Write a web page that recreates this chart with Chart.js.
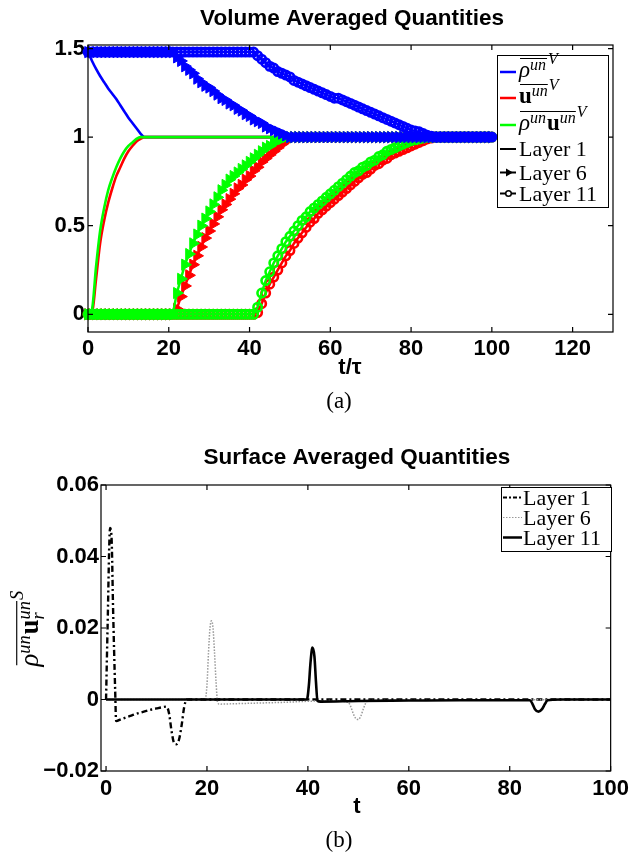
<!DOCTYPE html>
<html lang="en">
<head>
<meta charset="utf-8">
<title>Volume and surface averaged quantities</title>
<style>
  body { margin: 0; background: #fff; }
  .box { position: absolute; left: 0; }
</style>
</head>
<body>
<div class="box" style="top:0"><canvas id="volChart" width="634" height="420"></canvas></div>
<div class="box" style="top:420px"><canvas id="surfChart" width="634" height="434"></canvas></div>
<script src="https://cdn.jsdelivr.net/npm/chart.js@4/dist/chart.umd.min.js"></script>
<script>
var SANS = '"Liberation Sans", Arial, sans-serif';
var SERIF = '"Liberation Serif", "Times New Roman", serif';
var BLUE = '#0000ff', RED = '#ff0000', GREEN = '#00ff00';

// (a) volume averaged quantities, layers 6 and 11 sampled at t/tau = 0..100
var tGrid = [
  0,1,2,3,4,5,6,7,8,9,10,11,12,13,14,15,16,17,18,19,
  20,21,22,23,24,25,26,27,28,29,30,31,32,33,34,35,36,37,38,39,
  40,41,42,43,44,45,46,47,48,49,50,51,52,53,54,55,56,57,58,59,
  60,61,62,63,64,65,66,67,68,69,70,71,72,73,74,75,76,77,78,79,
  80,81,82,83,84,85,86,87,88,89,90,91,92,93,94,95,96,97,98,99,100];

var rhoL6 = [
  1.48,1.48,1.48,1.48,1.48,1.48,1.48,1.48,1.48,1.48,
  1.48,1.48,1.48,1.48,1.48,1.48,1.48,1.48,1.48,1.48,
  1.48,1.48,1.45,1.43,1.40,1.38,1.36,1.33,1.31,1.29,
  1.28,1.26,1.24,1.22,1.21,1.19,1.18,1.16,1.15,1.13,
  1.12,1.10,1.09,1.08,1.06,1.05,1.04,1.03,1.02,1.01,
  1,1,1,1,1,1,1,1,1,1, 1,1,1,1,1,1,1,1,1,1,
  1,1,1,1,1,1,1,1,1,1, 1,1,1,1,1,1,1,1,1,1,
  1,1,1,1,1,1,1,1,1,1, 1];
var uL6 = [
  0,0,0,0,0,0,0,0,0,0, 0,0,0,0,0,0,0,0,0,0,
  0,0,0.03,0.10,0.16,0.22,0.28,0.33,0.38,0.43,
  0.47,0.51,0.55,0.59,0.62,0.65,0.68,0.71,0.73,0.76,
  0.78,0.81,0.83,0.86,0.88,0.90,0.92,0.94,0.96,0.98,
  0.99,1,1,1,1,1,1,1,1,1, 1,1,1,1,1,1,1,1,1,1,
  1,1,1,1,1,1,1,1,1,1, 1,1,1,1,1,1,1,1,1,1,
  1,1,1,1,1,1,1,1,1,1, 1];
var rhouL6 = [
  0,0,0,0,0,0,0,0,0,0, 0,0,0,0,0,0,0,0,0,0,
  0,0,0.12,0.20,0.28,0.34,0.40,0.45,0.50,0.54,
  0.58,0.62,0.66,0.70,0.73,0.76,0.78,0.80,0.82,0.84,
  0.86,0.88,0.90,0.92,0.94,0.95,0.97,0.98,0.99,1,
  1,1,1,1,1,1,1,1,1,1, 1,1,1,1,1,1,1,1,1,1,
  1,1,1,1,1,1,1,1,1,1, 1,1,1,1,1,1,1,1,1,1,
  1,1,1,1,1,1,1,1,1,1, 1];

var rhoL11 = [
  1.48,1.48,1.48,1.48,1.48,1.48,1.48,1.48,1.48,1.48,
  1.48,1.48,1.48,1.48,1.48,1.48,1.48,1.48,1.48,1.48,
  1.48,1.48,1.48,1.48,1.48,1.48,1.48,1.48,1.48,1.48,
  1.48,1.48,1.48,1.48,1.48,1.48,1.48,1.48,1.48,1.48,
  1.48,1.48,1.46,1.44,1.42,1.40,1.39,1.37,1.36,1.35,
  1.34,1.32,1.31,1.30,1.29,1.28,1.27,1.26,1.25,1.24,
  1.23,1.22,1.22,1.21,1.20,1.19,1.18,1.17,1.16,1.15,
  1.14,1.13,1.12,1.11,1.10,1.09,1.08,1.07,1.06,1.05,
  1.04,1.035,1.03,1.02,1.01,1.005,1,1,1,1,
  1,1,1,1,1,1,1,1,1,1, 1];
var uL11 = [
  0,0,0,0,0,0,0,0,0,0, 0,0,0,0,0,0,0,0,0,0,
  0,0,0,0,0,0,0,0,0,0, 0,0,0,0,0,0,0,0,0,0,
  0,0,0.01,0.06,0.12,0.17,0.21,0.25,0.29,0.33,
  0.36,0.40,0.43,0.46,0.49,0.52,0.54,0.57,0.59,0.61,
  0.63,0.65,0.67,0.69,0.71,0.73,0.75,0.77,0.79,0.80,
  0.82,0.84,0.85,0.87,0.88,0.90,0.91,0.92,0.93,0.94,
  0.95,0.96,0.97,0.98,0.99,0.995,1,1,1,1,
  1,1,1,1,1,1,1,1,1,1, 1];
var rhouL11 = [
  0,0,0,0,0,0,0,0,0,0, 0,0,0,0,0,0,0,0,0,0,
  0,0,0,0,0,0,0,0,0,0, 0,0,0,0,0,0,0,0,0,0,
  0,0,0.04,0.12,0.19,0.24,0.29,0.33,0.37,0.41,
  0.44,0.47,0.50,0.53,0.55,0.58,0.60,0.62,0.64,0.66,
  0.68,0.70,0.72,0.74,0.76,0.78,0.80,0.81,0.83,0.84,
  0.86,0.87,0.89,0.90,0.92,0.93,0.94,0.95,0.96,0.97,
  0.98,0.985,0.99,0.995,1,1,1,1,1,1,
  1,1,1,1,1,1,1,1,1,1, 1];

// layer 1 has no markers, so it is read at fewer points
var l1T    = [0, 1, 2, 3, 4, 5, 6, 7, 8, 9, 10, 11, 12, 13, 14, 15, 20, 40, 60, 80, 100];
var rhoL1  = [1.48, 1.43, 1.385, 1.345, 1.31, 1.275, 1.245, 1.215, 1.18, 1.145, 1.11, 1.08, 1.05, 1.02, 1.0, 1, 1, 1, 1, 1, 1];
var uL1    = [0, 0.01, 0.2, 0.4, 0.53, 0.63, 0.71, 0.78, 0.83, 0.88, 0.92, 0.95, 0.975, 0.99, 1, 1, 1, 1, 1, 1, 1];
var rhouL1 = [0, 0.03, 0.27, 0.47, 0.6, 0.7, 0.77, 0.83, 0.88, 0.92, 0.95, 0.97, 0.99, 1, 1, 1, 1, 1, 1, 1, 1];

var volXTicks = [0, 20, 40, 60, 80, 100, 120];
var volYTicks = [0, 0.5, 1, 1.5];
var volYLabels = ['0', '0.5', '1', '1.5'];

// (b) surface averaged flux
var surfT1  = [0, 0.3, 0.8, 1.1, 1.4, 1.8, 2, 3, 4, 5, 6, 7, 8, 9, 10, 11, 12, 12.5, 13, 13.5, 14, 14.5, 15, 15.5, 16, 20, 40, 60, 80, 100];
var surfL1  = [0, 0.02, 0.048, 0.045, 0.025, 0.003, -0.006, -0.0055, -0.005, -0.0045, -0.004, -0.0036, -0.0032, -0.0028, -0.0025, -0.0022, -0.002,
               -0.004, -0.009, -0.0122, -0.0125, -0.011, -0.007, -0.002, 0, 0, 0, 0, 0, 0];
var surfT6  = [0, 19.6, 20, 20.3, 20.6, 20.9, 21.2, 21.5, 21.8, 22.1, 22.5, 25, 30, 35, 40, 45, 48, 48.5, 49, 49.5, 50, 50.5, 51, 51.5, 52, 60, 80, 100];
var surfL6  = [0, 0, 0.004, 0.013, 0.02, 0.022, 0.02, 0.013, 0.005, -0.0008, -0.0013, -0.0012, -0.001, -0.0008, -0.0005, -0.0003,
               -0.0008, -0.002, -0.004, -0.0053, -0.0056, -0.0046, -0.0026, -0.0009, -0.0003, -0.0002, -0.0001, 0];
var surfT11 = [0, 39.8, 40.2, 40.5, 40.9, 41.3, 41.6, 41.9, 42.5, 50, 60, 70, 84, 84.5, 85, 85.7, 86.4, 87, 87.5, 90, 100];
var surfL11 = [0, 0, 0.004, 0.01, 0.0145, 0.012, 0.005, -0.0004, -0.0006, -0.0004, -0.0003, -0.0002, -0.0002,
               -0.0012, -0.0027, -0.0034, -0.0027, -0.0012, -0.0002, 0, 0];

var surfXTicks = [0, 20, 40, 60, 80, 100];
var surfYTicks = [-0.02, 0, 0.02, 0.04, 0.06];
var surfYLabels = ['\u22120.02', '0', '0.02', '0.04', '0.06'];

var layerNames = ['Layer 1', 'Layer 6', 'Layer 11'];

function pts(xs, ys) {
  return xs.map(function (x, i) { return { x: x, y: ys[i] }; });
}

function layer1(data, color) {
  return { data: data, borderColor: color, borderWidth: 2.6, pointRadius: 0, cubicInterpolationMode: 'monotone' };
}
function layer6(data, color) {
  return { data: data, borderColor: color, borderWidth: 2.5, pointStyle: 'triangle', pointRotation: 90, pointRadius: 6.5,
           pointBorderWidth: 1, pointBackgroundColor: color, pointBorderColor: color, clip: 10 };
}
function layer11(data, color) {
  return { data: data, borderColor: color, borderWidth: 2.5, pointStyle: 'circle', pointRadius: 4.2,
           pointBorderWidth: 2.6, pointBackgroundColor: 'rgba(255,255,255,0)', pointBorderColor: color, clip: 10 };
}

var TICK_FONT = { family: SANS, size: 22, weight: 'bold' };
var IT = 'italic 23px ' + SERIF, BF = 'bold 23px ' + SERIF, SM = 'italic 16px ' + SERIF;

// inward MATLAB style ticks and a closed box
var framePlugin = {
  id: 'frame',
  afterDatasetsDraw: function (chart) {
    var a = chart.chartArea, c = chart.ctx, xs = chart.scales.x, ys = chart.scales.y, L = 5;
    c.save();
    c.strokeStyle = '#000';
    c.lineWidth = 1.2;
    c.strokeRect(a.left, a.top, a.right - a.left, a.bottom - a.top);
    c.beginPath();
    xs.ticks.forEach(function (t) {
      var p = xs.getPixelForValue(t.value);
      c.moveTo(p, a.bottom); c.lineTo(p, a.bottom - L);
      c.moveTo(p, a.top); c.lineTo(p, a.top + L);
    });
    ys.ticks.forEach(function (t) {
      var p = ys.getPixelForValue(t.value);
      c.moveTo(a.left, p); c.lineTo(a.left + L, p);
      c.moveTo(a.right, p); c.lineTo(a.right - L, p);
    });
    c.stroke();
    c.restore();
  }
};

function runs(c, x, base, pieces) {
  var cx = x;
  pieces.forEach(function (p) {
    c.font = p[1];
    c.fillText(p[0], cx, base - p[2]);
    if (p[3] !== false) cx += c.measureText(p[0]).width + (p[4] || 0);
  });
  return cx;
}
function barred(c, x, base, pieces, sup) {
  c.textAlign = 'left';
  c.textBaseline = 'alphabetic';
  var end = runs(c, x, base, pieces);
  c.lineWidth = 1;
  c.beginPath();
  c.moveTo(x + 1, base - 18.5);
  c.lineTo(end, base - 18.5);
  c.stroke();
  c.font = SM;
  c.fillText(sup, end + 1, base - 13);
  return end;
}
var RHO = [['\u03c1', IT, 0], ['un', SM, 7, true, 1]];
var UB = [['u', BF, 0], ['un', SM, 7]];

function text(c, s, x, y, font) {
  c.font = font;
  c.textAlign = 'center';
  c.textBaseline = 'middle';
  c.fillText(s, x, y);
}

var volText = {
  id: 'volText',
  afterDraw: function (chart) {
    var c = chart.ctx;
    c.save();
    c.fillStyle = '#000';
    c.strokeStyle = '#000';
    text(c, 'Volume Averaged Quantities', 352, 19, 'bold 22.5px ' + SANS);
    text(c, 't/\u03c4', 350, 368, 'bold 22px ' + SANS);
    text(c, '(a)', 339, 402, '23px ' + SERIF);

    // legend
    c.fillStyle = '#fff';
    c.fillRect(497, 55, 111, 152);
    c.lineWidth = 1;
    c.strokeRect(497.5, 55.5, 111, 152);
    var rows = [72, 98, 125, 149, 172.5, 193.5];
    [BLUE, RED, GREEN, '#000', '#000', '#000'].forEach(function (col, i) {
      c.strokeStyle = col;
      c.lineWidth = i < 3 ? 2.5 : 2;
      c.beginPath();
      c.moveTo(500, rows[i]);
      c.lineTo(516, rows[i]);
      c.stroke();
    });
    c.fillStyle = '#000';
    c.beginPath();
    c.moveTo(513, rows[4]); c.lineTo(506, rows[4] - 4); c.lineTo(506, rows[4] + 4); c.closePath();
    c.fill();
    c.lineWidth = 1.5;
    c.beginPath();
    c.arc(508.5, rows[5], 2.8, 0, Math.PI * 2);
    c.fillStyle = '#fff'; c.fill(); c.stroke();

    c.fillStyle = '#000';
    c.strokeStyle = '#000';
    barred(c, 519, rows[0] + 5, RHO, 'V');
    barred(c, 519, rows[1] + 5, UB, 'V');
    barred(c, 519, rows[2] + 5, RHO.concat(UB), 'V');
    c.font = '22px ' + SERIF;
    layerNames.forEach(function (n, i) { c.fillText(n, 519, rows[3 + i] + 7); });
    c.restore();
  }
};

var surfText = {
  id: 'surfText',
  afterDraw: function (chart) {
    var c = chart.ctx;
    c.save();
    c.fillStyle = '#000';
    c.strokeStyle = '#000';
    text(c, 'Surface Averaged Quantities', 357, 38, 'bold 22.5px ' + SANS);
    text(c, 't', 357, 387, 'bold 22px ' + SANS);
    text(c, '(b)', 339, 421, '23px ' + SERIF);

    // rotated y title
    c.save();
    c.translate(38, 208);
    c.rotate(-Math.PI / 2);
    c.scale(1.15, 1.15);
    var pieces = RHO.concat([['u', BF, 0], ['r', SM, -5, false], ['un', SM, 7]]);
    c.textBaseline = 'alphabetic';
    var w = 0;
    pieces.forEach(function (p) { c.font = p[1]; if (p[3] !== false) w += c.measureText(p[0]).width + (p[4] || 0); });
    barred(c, -w / 2 - 5, 0, pieces, 'S');
    c.restore();

    // legend
    c.fillStyle = '#fff';
    c.fillRect(501, 67, 110, 64);
    c.lineWidth = 1;
    c.strokeRect(501.5, 67.5, 110, 64);
    var rows = [77.5, 97.5, 117.5];
    var dashes = [[4, 2, 2, 2], [1.5, 1.5], []];
    var cols = ['#000', '#999', '#000'];
    var widths = [2, 1.2, 2.5];
    rows.forEach(function (y, i) {
      c.strokeStyle = cols[i];
      c.lineWidth = widths[i];
      c.setLineDash(dashes[i]);
      c.beginPath();
      c.moveTo(503, y);
      c.lineTo(522, y);
      c.stroke();
    });
    c.setLineDash([]);
    c.fillStyle = '#000';
    c.font = '22px ' + SERIF;
    c.textAlign = 'left';
    c.textBaseline = 'alphabetic';
    layerNames.forEach(function (n, i) { c.fillText(n, 523, rows[i] + 7); });
    c.restore();
  }
};

function axes(xMin, xMax, xTicks, yMin, yMax, yTicks, yLabels, axisH, axisW, xPad, yPad) {
  return {
    x: {
      type: 'linear', min: xMin, max: xMax,
      grid: { display: false, drawTicks: false }, border: { display: false },
      afterBuildTicks: function (s) { s.ticks = xTicks.map(function (v) { return { value: v }; }); },
      afterFit: function (s) { s.height = axisH; },
      ticks: { color: '#000', font: TICK_FONT, padding: xPad, maxRotation: 0, autoSkip: false }
    },
    y: {
      type: 'linear', min: yMin, max: yMax,
      grid: { display: false, drawTicks: false }, border: { display: false },
      afterBuildTicks: function (s) { s.ticks = yTicks.map(function (v) { return { value: v }; }); },
      afterFit: function (s) { s.width = axisW; },
      ticks: { color: '#000', font: TICK_FONT, padding: yPad, autoSkip: false,
               callback: function (v, i) { return yLabels[i]; } }
    }
  };
}

var common = {
  responsive: false, animation: false, events: [],
  plugins: { legend: { display: false }, tooltip: { enabled: false } }
};

new Chart(document.getElementById('volChart'), {
  type: 'line',
  data: {
    datasets: [
      layer11(pts(tGrid, rhoL11), BLUE),
      layer6(pts(tGrid, rhoL6), BLUE),
      layer11(pts(tGrid, rhouL11), GREEN),
      layer6(pts(tGrid, rhouL6), GREEN),
      layer1(pts(l1T, rhouL1), GREEN),
      layer11(pts(tGrid, uL11), RED),
      layer6(pts(tGrid, uL6), RED),
      layer1(pts(l1T, uL1), RED),
      layer1(pts(l1T, rhoL1), BLUE)
    ]
  },
  options: Object.assign({}, common, {
    layout: { padding: { top: 45, right: 21, left: 0, bottom: 0 } },
    scales: axes(0, 130, volXTicks, -0.1, 1.52, volYTicks, volYLabels, 88, 88, 4, 3)
  }),
  plugins: [framePlugin, volText]
});

new Chart(document.getElementById('surfChart'), {
  type: 'line',
  data: {
    datasets: [
      { data: pts(surfT11, surfL11), borderColor: '#000', borderWidth: 2.6, pointRadius: 0, cubicInterpolationMode: 'monotone' },
      { data: pts(surfT6, surfL6), borderColor: '#999', borderWidth: 1.5, borderDash: [1.5, 1.5], pointRadius: 0, cubicInterpolationMode: 'monotone' },
      { data: pts(surfT1, surfL1), borderColor: '#000', borderWidth: 2.4, borderDash: [6, 3, 2, 3], pointRadius: 0, cubicInterpolationMode: 'monotone' }
    ]
  },
  options: Object.assign({}, common, {
    layout: { padding: { top: 65, right: 21, left: 0, bottom: 0 } },
    scales: axes(-1, 100, surfXTicks, -0.02, 0.06, surfYTicks, surfYLabels, 83, 101, 5, 2)
  }),
  plugins: [framePlugin, surfText]
});
</script>
</body>
</html>
